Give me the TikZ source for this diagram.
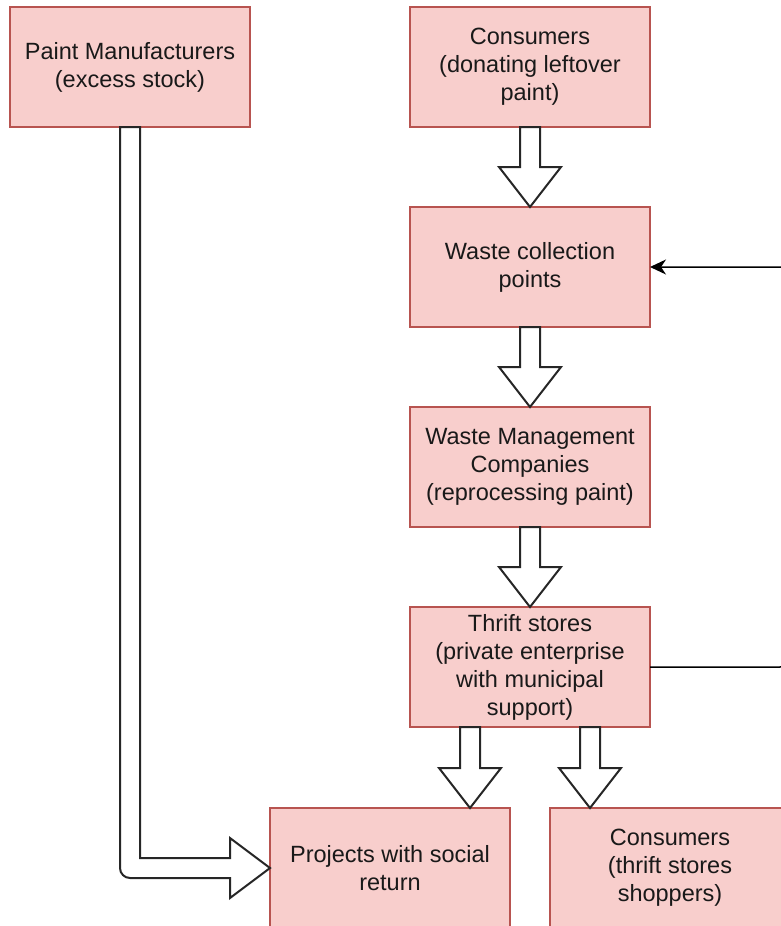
\documentclass[tikz,border=0pt]{standalone}
\usepackage{fontspec}
\setmainfont{Liberation Sans}
\usetikzlibrary{calc,arrows.meta}
\definecolor{boxfill}{HTML}{F8CECC}
\definecolor{boxline}{HTML}{B85450}
\newcommand{\blkdown}[2]{\draw[blk] ($(#1)+(-10,0)$) -- ($(#2)+(-10,40)$) -- ($(#2)+(-31,40)$) -- (#2) -- ($(#2)+(31,40)$) -- ($(#2)+(10,40)$) -- ($(#1)+(10,0)$) -- cycle;}
\begin{document}
\begin{tikzpicture}[x=1pt,y=1pt,
  box/.style={draw=boxline, fill=boxfill, line width=1.5pt, minimum width=240pt, minimum height=120pt, inner sep=0pt, outer sep=0pt, align=center, font=\fontsize{23.5}{28}\selectfont, text=black!90, anchor=north west},
  blk/.style={draw=black!85, fill=white, line width=2pt, line join=miter},
  conn/.style={draw=black, line width=1.5pt, -{Stealth[length=16pt,width=15pt,inset=5pt]}, rounded corners=10pt}]
\useasboundingbox (0,0) rectangle (781,-926);
\clip (0,0) rectangle (781,-926);
\node[box] (pm) at (10,-7) {Paint Manufacturers\\(excess stock)};
\node[box] (c1) at (410,-7) {Consumers\\(donating leftover\\paint)};
\node[box] (wc) at (410,-207) {Waste collection\\points};
\node[box] (wm) at (410,-407) {Waste Management\\Companies\\(reprocessing paint)};
\node[box] (ts) at (410,-607) {Thrift stores\\(private enterprise\\with municipal\\support)};
\node[box] (proj) at (270,-808) {Projects with social\\return};
\node[box] (cs) at (550,-808) {Consumers\\(thrift stores\\shoppers)};
\blkdown{c1.south}{wc.north}
\blkdown{wc.south}{wm.north}
\blkdown{wm.south}{ts.north}
\coordinate (s1) at ($(ts.south west)+(60,0)$);
\coordinate (t1) at ($(proj.north west)+(200,0)$);
\coordinate (s2) at ($(ts.south west)+(180,0)$);
\coordinate (t2) at ($(cs.north west)+(40,0)$);
\blkdown{s1}{t1}
\blkdown{s2}{t2}
\coordinate (pa) at (pm.south);
\coordinate (pb) at (pm.south |- proj.west);
\draw[blk] ($(pa)+(-10,0)$) -- ($(pb)+(-10,0)$) arc[start angle=180,end angle=270,radius=10]
  -- ($(proj.west)+(-40,-10)$) -- ($(proj.west)+(-40,-30)$) -- (proj.west)
  -- ($(proj.west)+(-40,30)$) -- ($(proj.west)+(-40,10)$) -- ($(pb)+(10,10)$)
  -- ($(pa)+(10,0)$) -- cycle;
\draw[conn] (ts.east) -- ++(140,0) |- (wc.east);
\end{tikzpicture}
\end{document}
